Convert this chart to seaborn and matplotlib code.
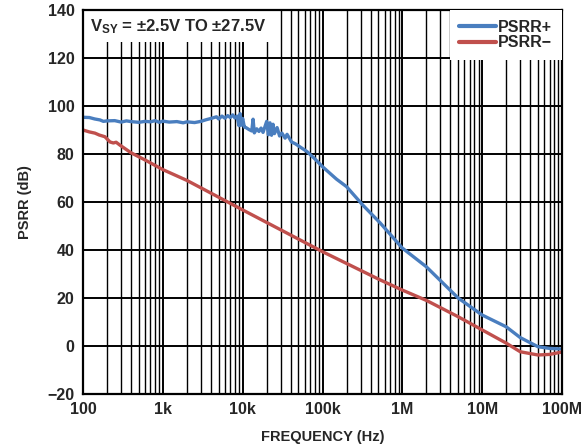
import numpy as np
import pandas as pd
import seaborn as sns
import matplotlib
matplotlib.use("Agg")
import matplotlib.pyplot as plt
from matplotlib.patches import Rectangle
from matplotlib.ticker import FixedLocator, LogLocator, NullFormatter

# ---- data ----
freq_pos = [100, 120, 140, 163, 180, 200, 250, 300, 350, 400, 500, 600, 700, 800, 900,
            1000, 1200, 1500, 1800, 2000, 2500, 3000, 3500, 4000, 4700, 5000, 5500, 6000,
            6500, 7000, 7500, 8000, 8500, 9000, 9300, 9600, 10000, 10500, 11000, 12000,
            13000, 13500, 14000, 15000, 16000, 17000, 18000, 20000, 21000, 22000, 23000,
            24000, 25000, 27000, 29000, 31000, 34000, 36000, 41000, 46000, 52000, 64000,
            80000, 100000, 150000, 200000, 320000, 530000, 1e6, 2e6, 5e6, 1e7, 2e7, 3e7,
            5e7, 7e7, 1e8]
psrr_pos = [95.3, 95.2, 94.6, 94.2, 93.6, 93.8, 93.9, 93.3, 93.8, 93.5, 93.2, 93.6, 93.4,
            93.9, 93.2, 93.7, 93.3, 93.5, 93.0, 93.4, 93.1, 93.6, 94.3, 94.8, 95.5, 94.6,
            95.8, 94.9, 96.0, 95.2, 96.3, 95.0, 95.8, 91.8, 96.8, 92.0, 94.8, 91.2, 91.0,
            90.2, 89.6, 94.5, 88.8, 90.5, 89.4, 90.8, 89.0, 93.6, 88.0, 93.0, 87.8, 92.4,
            88.5, 91.0, 87.5, 88.7, 86.6, 88.2, 85.0, 84.2, 83.0, 81.0, 78.0, 74.7, 69.5,
            66.4, 58.7, 51.2, 40.8, 33.0, 20.0, 12.9, 8.0, 3.5, -0.3, -1.0, -1.25]

freq_neg = [100, 120, 141, 160, 188, 218, 240, 260, 290, 400, 600, 1000, 2000, 5000,
            10000, 100000, 530000, 1e6, 2e6, 5e6, 1e7, 2e7, 3e7, 5e7, 7e7, 1e8]
psrr_neg = [90.0, 89.2, 88.7, 87.9, 87.2, 85.0, 84.6, 84.9, 83.7, 80.5, 77.5, 73.5, 69.0,
            62.0, 56.7, 39.3, 27.5, 23.3, 19.0, 12.2, 6.7, 1.2, -2.4, -3.75, -3.5, -2.5]

series_names = ["PSRR+", "PSRR\u2212"]
series_colors = ["#4a7ebf", "#c0504d"]
x_ticks = [1e2, 1e3, 1e4, 1e5, 1e6, 1e7, 1e8]
x_ticklabels = ["100", "1k", "10k", "100k", "1M", "10M", "100M"]
y_ticks = [-20, 0, 20, 40, 60, 80, 100, 120, 140]
annotation = "V$_{\\mathbf{SY}}$ = \u00b12.5V TO \u00b127.5V"

df = pd.concat([
    pd.DataFrame({"freq": freq_pos, "psrr": psrr_pos, "series": series_names[0]}),
    pd.DataFrame({"freq": freq_neg, "psrr": psrr_neg, "series": series_names[1]}),
])

sns.set_style("white")
plt.rcParams["font.family"] = ["Liberation Sans", "DejaVu Sans"]
plt.rcParams["font.weight"] = "bold"
plt.rcParams["mathtext.fontset"] = "custom"
plt.rcParams["mathtext.bf"] = "Liberation Sans:bold"
plt.rcParams["mathtext.rm"] = "Liberation Sans:bold"
plt.rcParams["mathtext.default"] = "bf"

fig = plt.figure(figsize=(5.87, 4.48), dpi=100)
ax = fig.add_axes([83/587, 1 - 394/448, 479/587, 384/448])

sns.lineplot(data=df, x="freq", y="psrr", hue="series", palette=series_colors,
             hue_order=series_names, linewidth=2.4, ax=ax, sort=False, estimator=None)

ax.set_xscale("log")
ax.set_xlim(1e2, 1e8)
ax.set_ylim(-20, 140)
ax.xaxis.set_major_locator(FixedLocator(x_ticks))
ax.set_xticklabels(x_ticklabels)
ax.xaxis.set_minor_locator(LogLocator(base=10, subs=np.arange(2, 10)))
ax.xaxis.set_minor_formatter(NullFormatter())
ax.set_yticks(y_ticks)
ax.set_yticklabels([str(v).replace("-", "\u2212") for v in y_ticks])

ax.grid(True, which="major", axis="both", color="black", linewidth=1.4)
ax.grid(True, which="minor", axis="x", color="black", linewidth=1.0)
ax.set_axisbelow(True)
ax.tick_params(axis="both", which="both", length=0, labelsize=11.5, pad=6)
for lab in ax.get_xticklabels() + ax.get_yticklabels():
    lab.set_fontweight("bold")
for s in ax.spines.values():
    s.set_color("black")
    s.set_linewidth(1.6)

ax.set_xlabel("FREQUENCY (Hz)", fontsize=10.5, fontweight="bold", labelpad=9)
ax.set_ylabel("PSRR (dB)", fontsize=10.5, fontweight="bold", labelpad=11)

# annotation box (white, hides grid)
ax.add_patch(Rectangle((0, 1 - 32/384), 192/479, 32/384, transform=ax.transAxes,
                       facecolor="white", edgecolor="none", zorder=1.5))
ax.text(7/479, 1 - 17/384, annotation, transform=ax.transAxes, ha="left", va="center",
        fontsize=12, fontweight="bold", zorder=3)

leg = ax.legend(loc="upper right", borderaxespad=0.0, frameon=True, fancybox=False,
                facecolor="white", edgecolor="none", framealpha=1, fontsize=11.5,
                handlelength=2.3, handletextpad=0.15, labelspacing=0.05,
                borderpad=0.6, title=None)
leg.get_frame().set_linewidth(0)
for t in leg.get_texts():
    t.set_fontweight("bold")
for l in leg.get_lines():
    l.set_linewidth(3.0)

fig.savefig("out.png", dpi=100)
